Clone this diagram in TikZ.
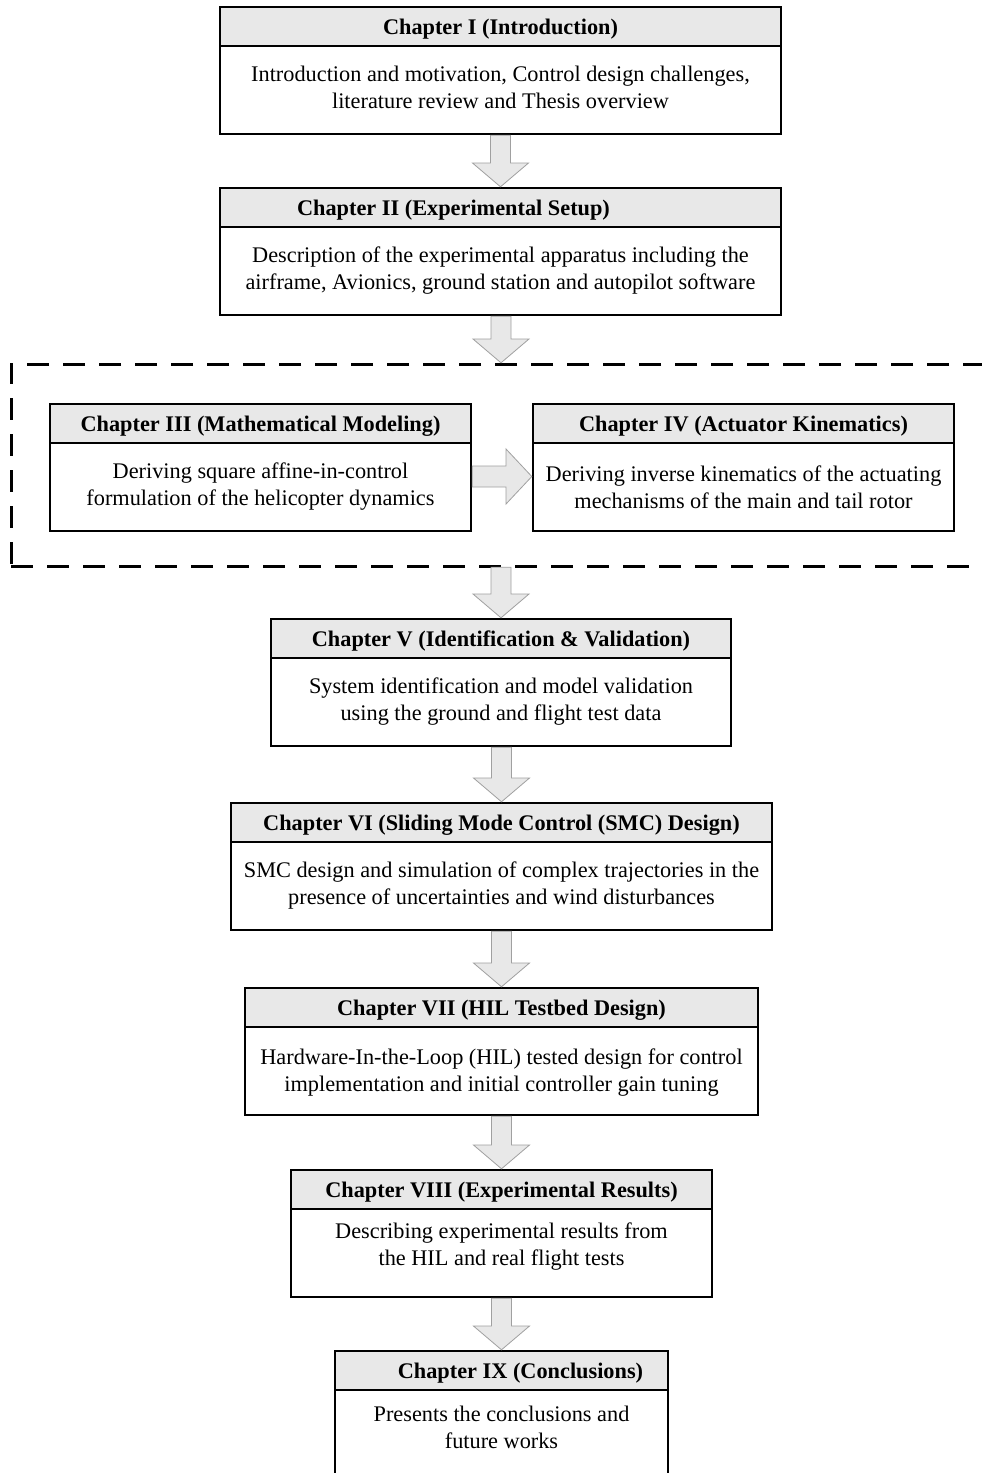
\documentclass[tikz,border=0pt]{standalone}
\usepackage{fontspec}
\setmainfont{Liberation Serif}
\usetikzlibrary{positioning,calc}
\definecolor{headgray}{HTML}{E8E8E8}
\definecolor{arrowgray}{HTML}{E8E8E8}
\definecolor{arrowline}{HTML}{A0A0A0}
\newcommand{\chaptitlefont}{\fontsize{22.3}{27}\selectfont\bfseries}
\newcommand{\chapbodyfont}{\fontsize{22.3}{27}\selectfont}
% block arrow from one box down to the next
\newcommand{\flowdown}[2]{%
  \path[flowarrow] let \p1=(#1.south), \p2=(#2.north) in
    (\x2-10pt,\y1-1.2pt) -- (\x2-10pt,\y2+25pt) -- (\x2-28pt,\y2+25pt) -- (\x2,\y2+1.2pt)
    -- (\x2+28pt,\y2+25pt) -- (\x2+10pt,\y2+25pt) -- (\x2+10pt,\y1-1.2pt) -- cycle;}

\begin{document}
\begin{tikzpicture}[
    x=1pt, y=-1pt,
    chaptitle/.style={rectangle, draw, line width=2.5pt, fill=headgray,
                      minimum height=39pt, inner sep=0pt, outer sep=0pt,
                      text depth=0pt, font=\chaptitlefont},
    chapbody/.style={rectangle, draw, line width=2.5pt, fill=white,
                     minimum height=88pt, inner sep=0pt, outer sep=0pt,
                     text depth=6pt, align=center, font=\chapbodyfont},
    groupbox/.style={rectangle, draw, line width=3pt, outer sep=0pt,
                     dash pattern=on 22pt off 14pt},
    flowarrow/.style={draw=arrowline, fill=arrowgray, line width=0.8pt}
]
\clip (0,0) rectangle (982,1473);
\fill[white] (0,0) rectangle (982,1473);

\node[groupbox, minimum width=980pt, minimum height=202pt] (model) at (501,465) {};

\node[chaptitle, minimum width=561pt] (t1) at (500.5,26.5) {Chapter I (Introduction)};
\node[chapbody, minimum width=561pt, below=0pt of t1] (b1) {Introduction and motivation, Control design challenges,\\literature review and Thesis overview};

\node[chaptitle, minimum width=561pt] (t2) at (500.5,207.5) {Chapter II (Experimental Setup)\hspace{94pt}\mbox{}};
\node[chapbody, minimum width=561pt, below=0pt of t2] (b2) {Description of the experimental apparatus including the\\airframe, Avionics, ground station and autopilot software};

\node[chaptitle, minimum width=421pt] (t3) at (260.5,423.5) {Chapter III (Mathematical Modeling)};
\node[chapbody, minimum width=421pt, below=0pt of t3] (b3) {Deriving square affine-in-control\\formulation of the helicopter dynamics};

\node[chaptitle, minimum width=421pt] (t4) at (743.5,423.5) {Chapter IV (Actuator Kinematics)};
\node[chapbody, minimum width=421pt, below=0pt of t4, text depth=0pt] (b4) {Deriving inverse kinematics of the actuating\\mechanisms of the main and tail rotor};

\node[chaptitle, minimum width=460pt] (t5) at (501,638.5) {Chapter V (Identification \& Validation)};
\node[chapbody, minimum width=460pt, below=0pt of t5] (b5) {System identification and model validation\\using the ground and flight test data};

\node[chaptitle, minimum width=541pt] (t6) at (501.5,822.5) {Chapter VI (Sliding Mode Control (SMC) Design)};
\node[chapbody, minimum width=541pt, below=0pt of t6] (b6) {SMC design and simulation of complex trajectories in the\\presence of uncertainties and wind disturbances};

\node[chaptitle, minimum width=513pt] (t7) at (501.5,1007.5) {Chapter VII (HIL Testbed Design)};
\node[chapbody, minimum width=513pt, below=0pt of t7, text depth=1pt] (b7) {Hardware-In-the-Loop (HIL) tested design for control\\implementation and initial controller gain tuning};

\node[chaptitle, minimum width=421pt] (t8) at (501.5,1189.5) {Chapter VIII (Experimental Results)};
\node[chapbody, minimum width=421pt, below=0pt of t8, text depth=17pt] (b8) {Describing experimental results from\\the HIL and real flight tests};

\node[chaptitle, minimum width=333pt] (t9) at (501.5,1370.5) {\hspace{38pt}Chapter IX (Conclusions)};
\node[chapbody, minimum width=333pt, below=0pt of t9, text depth=14pt] (b9) {Presents the conclusions and\\future works};

\flowdown{b1}{t2}
\flowdown{b2}{model}
\flowdown{model}{t5}
\flowdown{b5}{t6}
\flowdown{b6}{t7}
\flowdown{b7}{t8}
\flowdown{b8}{t9}
\path[flowarrow] let \p1=(b3.east), \p2=(b4.west) in
    (\x1+1.2pt,\y1) -- (\x2-27pt,\y1) -- (\x2-27pt,\y1-17pt) -- (\x2-1.2pt,\y1+10.5pt)
    -- (\x2-27pt,\y1+38pt) -- (\x2-27pt,\y1+21pt) -- (\x1+1.2pt,\y1+21pt) -- cycle;
\end{tikzpicture}
\end{document}
